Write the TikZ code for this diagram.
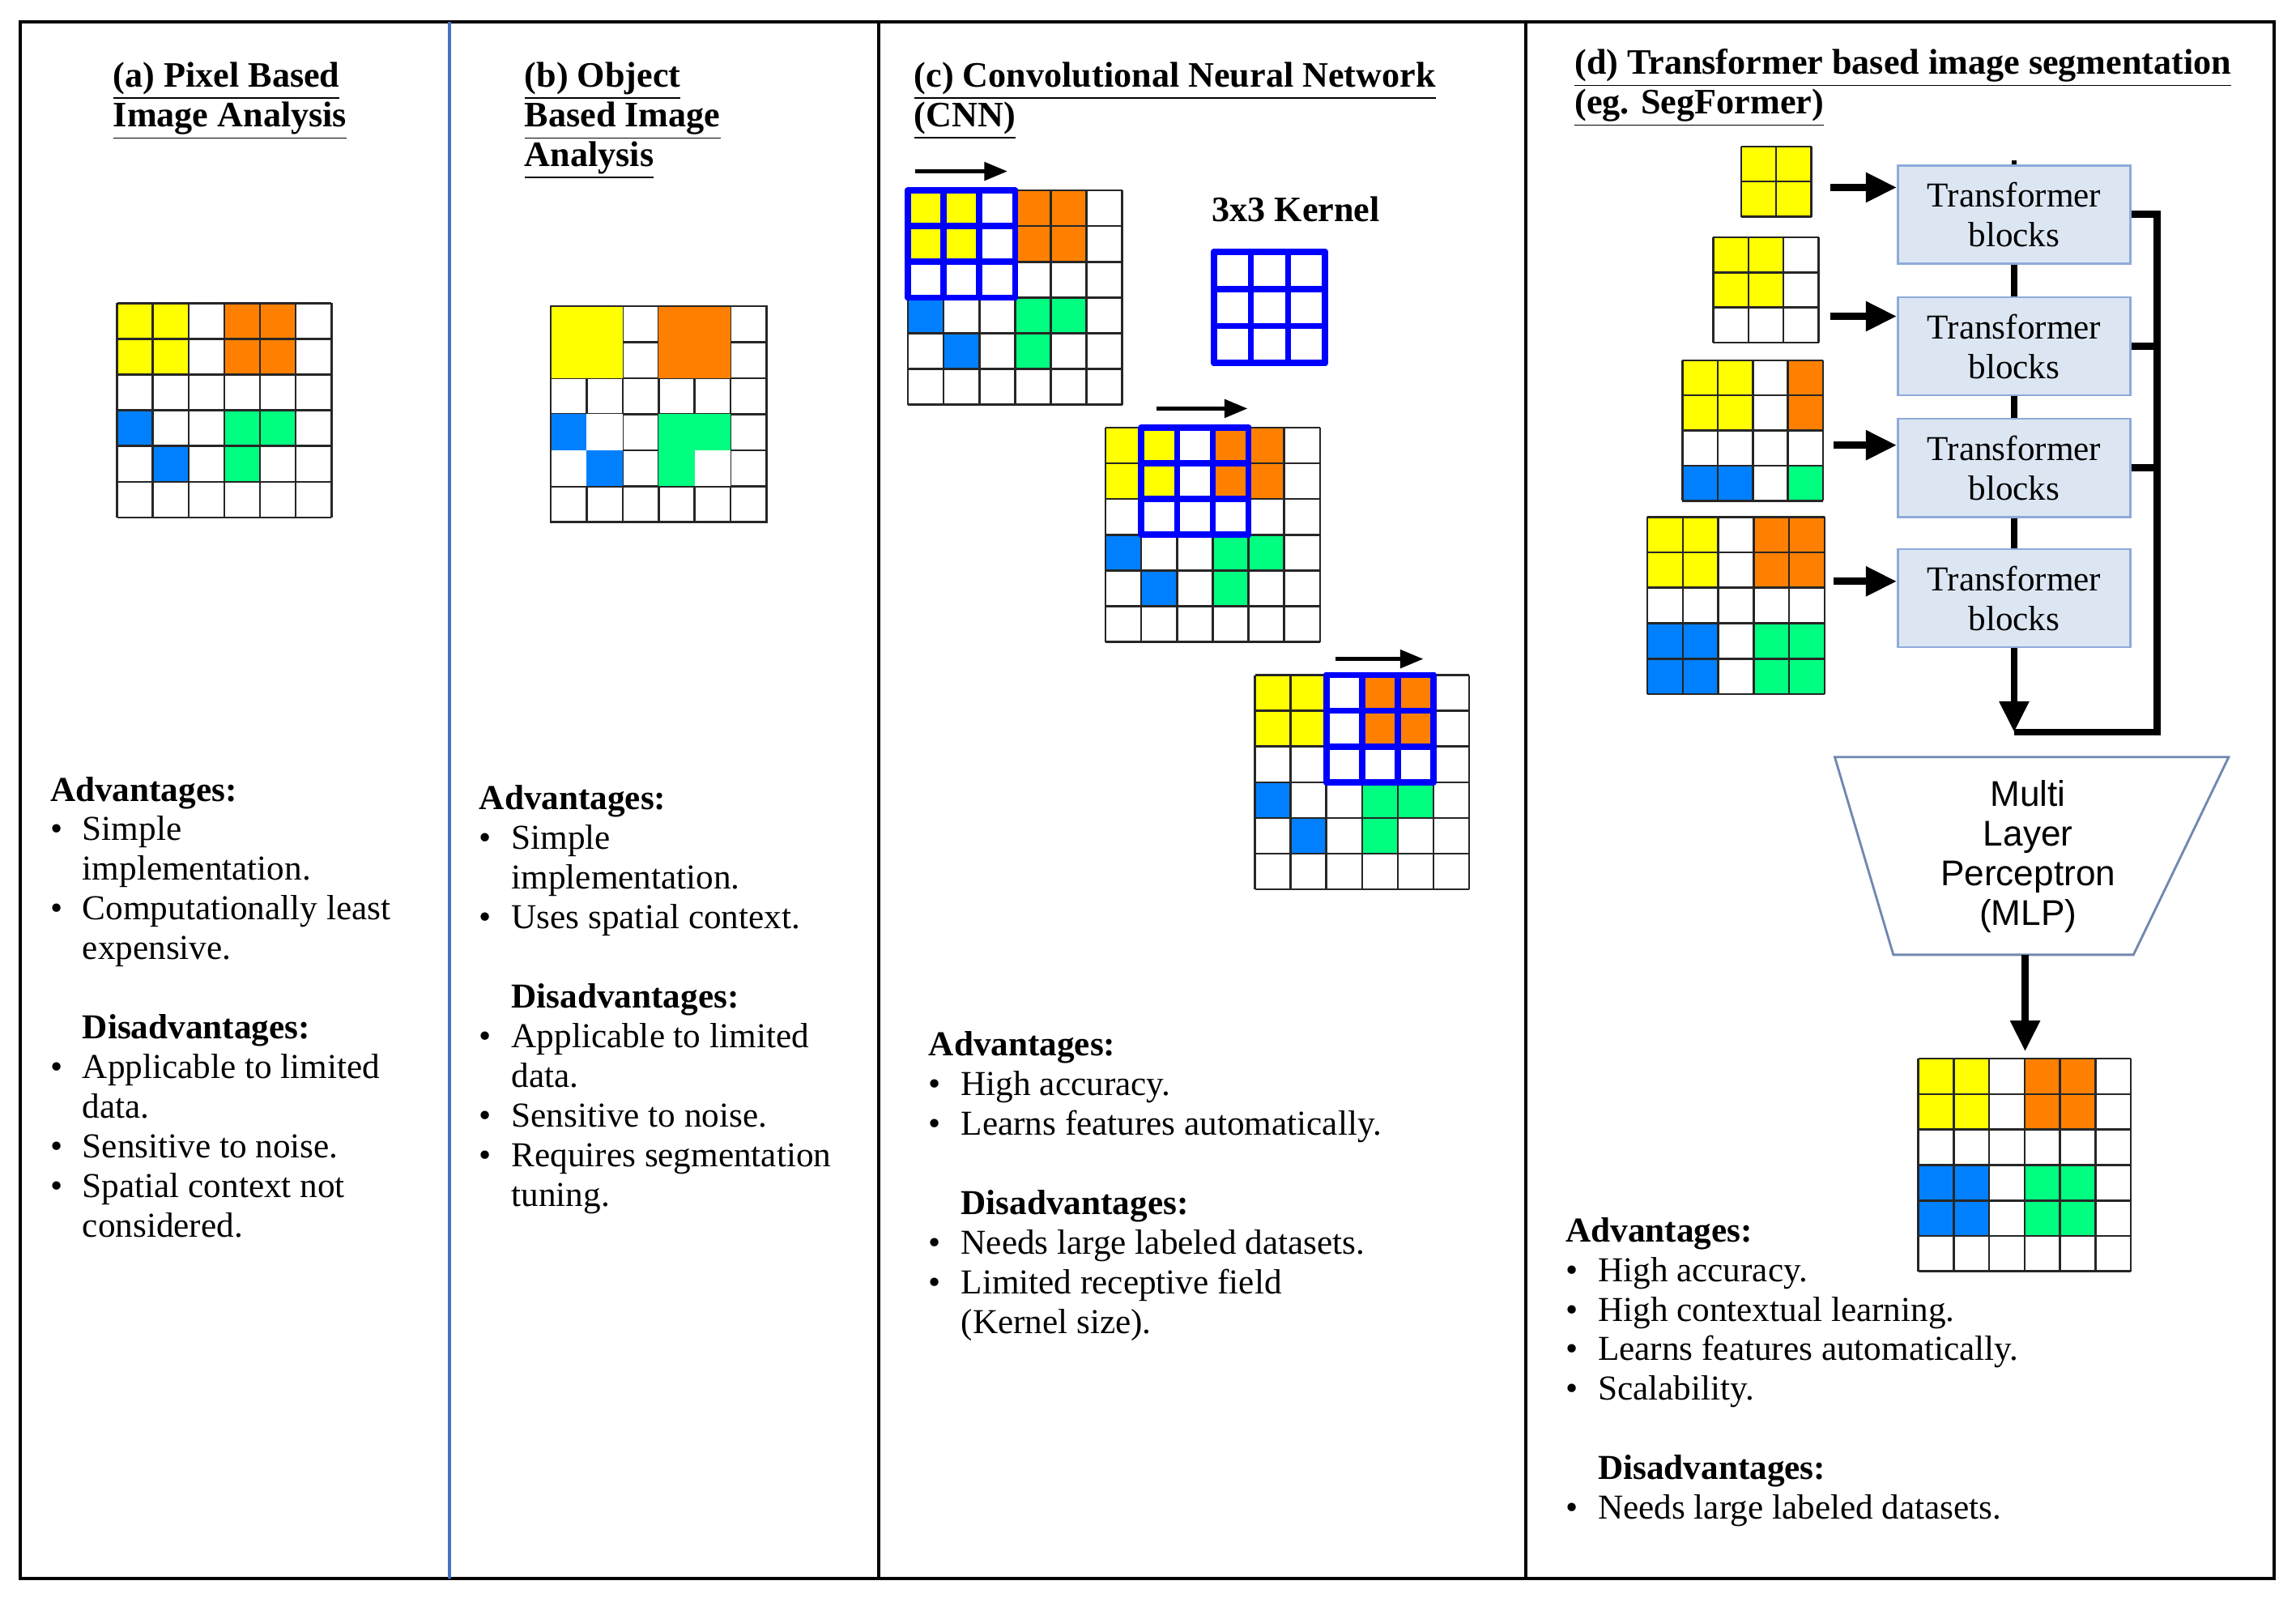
\documentclass[tikz,border=0pt]{standalone}
\usepackage{fontspec}
\setmainfont{Liberation Serif}
\newfontfamily\mysans{Liberation Sans}
\usetikzlibrary{arrows.meta}
\definecolor{cy}{HTML}{FFFF00}
\definecolor{co}{HTML}{FF8000}
\definecolor{cb}{HTML}{0080FF}
\definecolor{cg}{HTML}{00FF80}
\definecolor{kb}{HTML}{0000FF}
\definecolor{tbf}{HTML}{DCE6F2}
\definecolor{tbd}{HTML}{8EAADB}
\definecolor{sep}{HTML}{4472C4}
\newcommand\mygrid[4]{\foreach \k in {0,...,#3}{\draw[gl] ({#1+\k*#4},#2) -- ++(0,{#3*#4}); \draw[gl] (#1,{#2+\k*#4}) -- ++({#3*#4},0);}}
\newcommand\mycell[6]{\fill[#6] ({#1+(#5-1)*#3},{#2+(#4-1)*#3}) rectangle ++(#3,#3);}
\newcommand\mykern[4]{\foreach \k in {0,...,3}{\draw[kern] ({#1+\k*#3},#2) -- ++(0,{3*#3}); \draw[kern] (#1,{#2+\k*#3}) -- ++({3*#3},0);}}
\newcommand\stdpat[3]{%
 \mycell{#1}{#2}{#3}{1}{1}{cy}\mycell{#1}{#2}{#3}{1}{2}{cy}\mycell{#1}{#2}{#3}{2}{1}{cy}\mycell{#1}{#2}{#3}{2}{2}{cy}%
 \mycell{#1}{#2}{#3}{1}{4}{co}\mycell{#1}{#2}{#3}{1}{5}{co}\mycell{#1}{#2}{#3}{2}{4}{co}\mycell{#1}{#2}{#3}{2}{5}{co}%
 \mycell{#1}{#2}{#3}{4}{1}{cb}\mycell{#1}{#2}{#3}{5}{2}{cb}%
 \mycell{#1}{#2}{#3}{4}{4}{cg}\mycell{#1}{#2}{#3}{4}{5}{cg}\mycell{#1}{#2}{#3}{5}{4}{cg}}
\begin{document}
\begin{tikzpicture}[x=0.02cm,y=-0.02cm,
 gl/.style={line width=0.8pt,black!85},
 kern/.style={line width=2.4pt,kb,line cap=round},
 title/.style={anchor=north west,align=left,font=\fontsize{13.9}{15.4}\selectfont\bfseries,inner sep=0pt},
 txt/.style={anchor=base west,inner sep=0pt,font=\fontsize{13.6}{15.4}\selectfont},
 tb/.style={draw=tbd,fill=tbf,line width=0.8pt,minimum width=3.18cm,minimum height=1.34cm,align=center,inner sep=0pt,font=\fontsize{13.6}{15.4}\selectfont},
 thick arr/.style={line width=2.8pt,-{Triangle[length=12pt,width=11pt]}},
 small arr/.style={line width=1.5pt,-{Triangle[length=9pt,width=7pt]}}]
\useasboundingbox (0,0) rectangle (1568,1093.5);
% frame
\draw[line width=1.2pt] (14,15) rectangle (1553,1078);
\draw[sep,line width=1pt] (307,15) -- (307,1078);
\draw[line width=1.2pt] (600,15) -- (600,1078);
\draw[line width=1.2pt] (1042,15) -- (1042,1078);
% titles
\node[title] (ta) at (77,42) {\underline{(a) Pixel Based}\\\underline{Image Analysis}};
\node[title] (tb) at (358,42) {\underline{(b) Object}\\\underline{Based Image}\\\underline{Analysis}};
\node[title] (tc) at (624,42) {\underline{(c) Convolutional Neural Network}\\\underline{(CNN)}};
\node[title] (td) at (1075,33) {\underline{(d) Transformer based image segmentation}\\\underline{(eg. SegFormer)}};
% (a) grid
\stdpat{80}{207}{24.4}
\mygrid{80}{207}{6}{24.4}
% (b) grid
\mygrid{376}{209}{6}{24.6}
\fill[cy] (376,209) rectangle ++(49.2,49.2);
\fill[co] (425.2,209) ++(24.6,0) rectangle ++(49.2,49.2);
\fill[white] (376,282.8) rectangle ++(49.2,49.2);
\mycell{376}{209}{24.6}{4}{1}{cb}\mycell{376}{209}{24.6}{5}{2}{cb}
\fill[cg] (449.8,282.8) rectangle ++(49.2,49.2);
\mycell{376}{209}{24.6}{5}{5}{white}
\draw[gl] (376,209) rectangle ++(147.6,147.6);
% (c) grids
\stdpat{620}{130}{24.4}\mygrid{620}{130}{6}{24.4}\mykern{620}{130}{24.4}{}
\stdpat{755}{292}{24.4}\mygrid{755}{292}{6}{24.4}\mykern{779.4}{292}{24.4}{}
\stdpat{857}{461}{24.4}\mygrid{857}{461}{6}{24.4}\mykern{905.8}{461}{24.4}{}
\mykern{829}{172}{25.3}{}
\node[anchor=base,inner sep=0pt,font=\fontsize{13.9}{15}\selectfont\bfseries] (kl) at (885,151) {3x3 Kernel};
\coordinate (a1s) at (625,117); \coordinate (a1e) at (688,117);
\coordinate (a2s) at (790,279); \coordinate (a2e) at (852,279);
\coordinate (a3s) at (912,450); \coordinate (a3e) at (972,450);
\draw[small arr] (a1s) -- (a1e);
\draw[small arr] (a2s) -- (a2e);
\draw[small arr] (a3s) -- (a3e);
% (d) input grids
\mycell{1189}{100}{24}{1}{1}{cy}\mycell{1189}{100}{24}{1}{2}{cy}\mycell{1189}{100}{24}{2}{1}{cy}\mycell{1189}{100}{24}{2}{2}{cy}
\mygrid{1189}{100}{2}{24}
\mycell{1170}{162}{24}{1}{1}{cy}\mycell{1170}{162}{24}{1}{2}{cy}\mycell{1170}{162}{24}{2}{1}{cy}\mycell{1170}{162}{24}{2}{2}{cy}
\mygrid{1170}{162}{3}{24}
\mycell{1149}{246}{24}{1}{1}{cy}\mycell{1149}{246}{24}{1}{2}{cy}\mycell{1149}{246}{24}{2}{1}{cy}\mycell{1149}{246}{24}{2}{2}{cy}
\mycell{1149}{246}{24}{1}{4}{co}\mycell{1149}{246}{24}{2}{4}{co}
\mycell{1149}{246}{24}{4}{1}{cb}\mycell{1149}{246}{24}{4}{2}{cb}\mycell{1149}{246}{24}{4}{4}{cg}
\mygrid{1149}{246}{4}{24}
\foreach \i/\j/\c in {1/1/cy,1/2/cy,2/1/cy,2/2/cy,1/4/co,1/5/co,2/4/co,2/5/co,4/1/cb,4/2/cb,5/1/cb,5/2/cb,4/4/cg,4/5/cg,5/4/cg,5/5/cg}{\mycell{1125}{353}{24.2}{\i}{\j}{\c}}
\mygrid{1125}{353}{5}{24.2}
% transformer blocks
\node[tb] (b1) at (1375.5,146.5) {Transformer\\blocks};
\node[tb] (b2) at (1375.5,236.5) {Transformer\\blocks};
\node[tb] (b3) at (1375.5,319.5) {Transformer\\blocks};
\node[tb] (b4) at (1375.5,408.5) {Transformer\\blocks};
\draw[line width=2pt] (b1.north) -- ++(0,-3);
\draw[line width=2.8pt] (b1) -- (b2);
\draw[line width=2.8pt] (b2) -- (b3);
\draw[line width=2.8pt] (b3) -- (b4);
\coordinate (g1) at (1250,128); \coordinate (g2) at (1250,216);
\coordinate (g3) at (1252,304); \coordinate (g4) at (1252,397);
\draw[thick arr] (g1) -- (g1 -| b1.west);
\draw[thick arr] (g2) -- (g2 -| b2.west);
\draw[thick arr] (g3) -- (g3 -| b3.west);
\draw[thick arr] (g4) -- (g4 -| b4.west);
\coordinate (m) at (1375.5,500);
\coordinate (rc) at (1473,500);
\draw[thick arr] (b4.south) -- (m);
\draw[line width=2.8pt,line join=miter] (b1.east) -- (b1.east -| rc) -- (rc) -- (m);
\draw[line width=2.8pt] (b2.east) -- (b2.east -| rc);
\draw[line width=2.8pt] (b3.east) -- (b3.east -| rc);
% MLP
\draw[tbd!80!black,line width=0.9pt] (1253,517) -- (1522,517) -- (1457,652) -- (1293,652) -- cycle;
\node[align=center,inner sep=0pt,font=\mysans\fontsize{13.9}{15.4}\selectfont] (mlp) at (1385,585) {Multi\\Layer\\Perceptron\\(MLP)};
\coordinate (mb) at (1383,652); \coordinate (ot) at (1383,718);
\draw[thick arr] (mb) -- (ot);
\foreach \i/\j/\c in {1/1/cy,1/2/cy,2/1/cy,2/2/cy,1/4/co,1/5/co,2/4/co,2/5/co,4/1/cb,4/2/cb,5/1/cb,5/2/cb,4/4/cg,4/5/cg,5/4/cg,5/5/cg}{\mycell{1310}{723}{24.2}{\i}{\j}{\c}}
\mygrid{1310}{723}{6}{24.2}
% texts
\node[txt] (xa) at (34,547) {\renewcommand\arraystretch{1}\begin{tabular}[t]{@{}p{0.44cm}@{}l@{}}
\multicolumn{2}{@{}l@{}}{\textbf{Advantages:}}\\
\textbullet & Simple\\ & implementation.\\
\textbullet & Computationally least\\ & expensive.\\[15.4pt]
 & \textbf{Disadvantages:}\\
\textbullet & Applicable to limited\\ & data.\\
\textbullet & Sensitive to noise.\\
\textbullet & Spatial context not\\ & considered.
\end{tabular}};
\node[txt] (xb) at (327,553) {\renewcommand\arraystretch{1}\begin{tabular}[t]{@{}p{0.44cm}@{}l@{}}
\multicolumn{2}{@{}l@{}}{\textbf{Advantages:}}\\
\textbullet & Simple\\ & implementation.\\
\textbullet & Uses spatial context.\\[15.4pt]
 & \textbf{Disadvantages:}\\
\textbullet & Applicable to limited\\ & data.\\
\textbullet & Sensitive to noise.\\
\textbullet & Requires segmentation\\ & tuning.
\end{tabular}};
\node[txt] (xc) at (634,721) {\renewcommand\arraystretch{1}\begin{tabular}[t]{@{}p{0.44cm}@{}l@{}}
\multicolumn{2}{@{}l@{}}{\textbf{Advantages:}}\\
\textbullet & High accuracy.\\
\textbullet & Learns features automatically.\\[15.4pt]
 & \textbf{Disadvantages:}\\
\textbullet & Needs large labeled datasets.\\
\textbullet & Limited receptive field\\ & (Kernel size).
\end{tabular}};
\node[txt] (xd) at (1069,848) {\renewcommand\arraystretch{1}\begin{tabular}[t]{@{}p{0.44cm}@{}l@{}}
\multicolumn{2}{@{}l@{}}{\textbf{Advantages:}}\\
\textbullet & High accuracy.\\
\textbullet & High contextual learning.\\
\textbullet & Learns features automatically.\\
\textbullet & Scalability.\\[15.4pt]
 & \textbf{Disadvantages:}\\
\textbullet & Needs large labeled datasets.
\end{tabular}};
\end{tikzpicture}
\end{document}
